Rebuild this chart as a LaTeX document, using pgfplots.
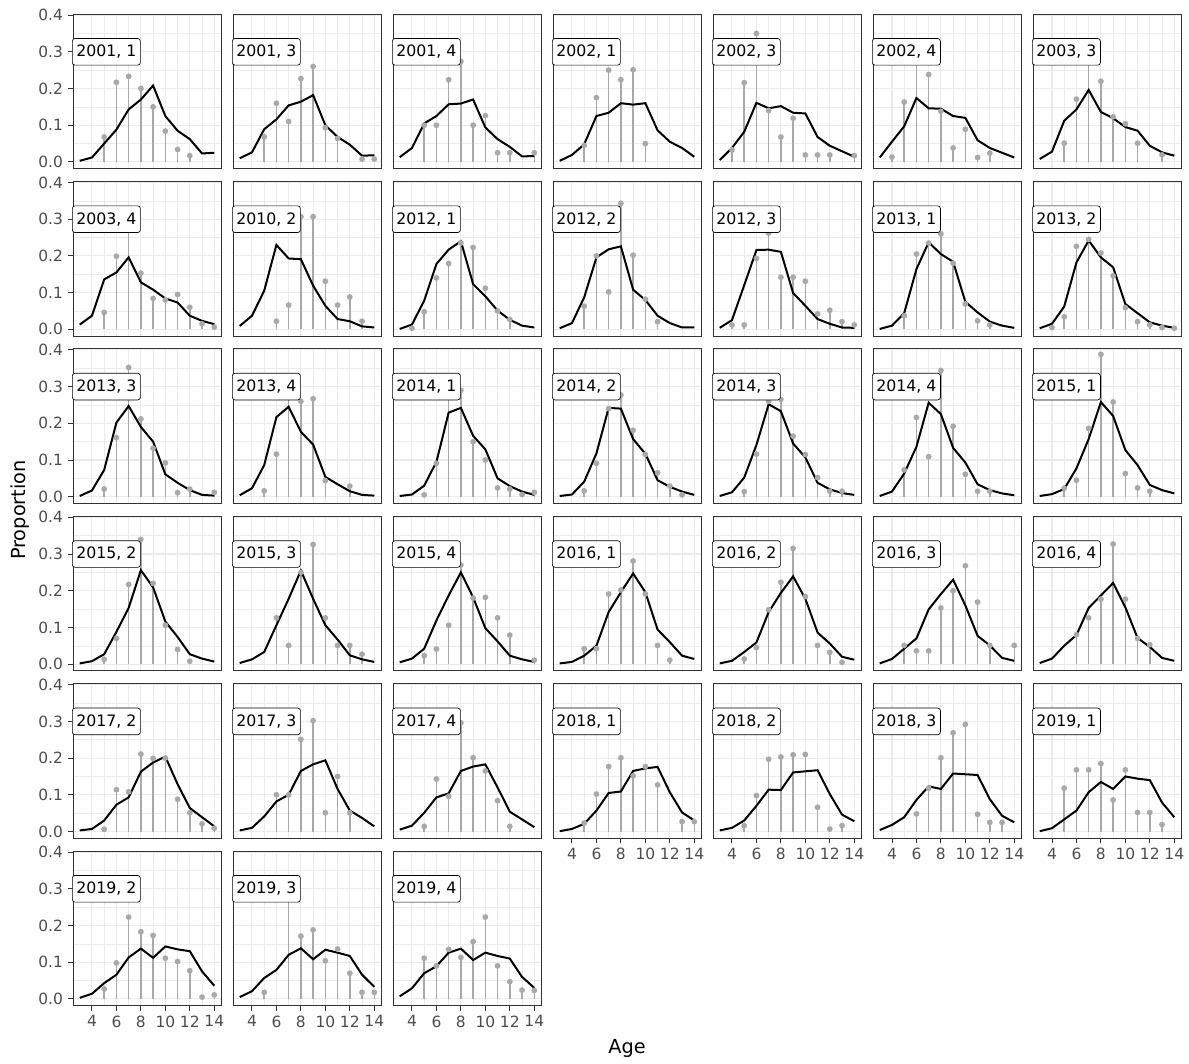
\documentclass[border=0pt]{standalone}
\usepackage{fontspec}
\setmainfont{DejaVu Sans}
\usepackage{pgfplots}
\pgfplotsset{compat=1.18}
\definecolor{gg92}{HTML}{EBEBEB}
\definecolor{gg20}{HTML}{333333}
\definecolor{gg30}{HTML}{4D4D4D}
\definecolor{obsc}{HTML}{A9A9A9}
\pgfplotsset{
  panel/.style={
    scale only axis, width=111pt, height=115.9pt, anchor=north west,
    xmin=2.45, xmax=14.55, ymin=-0.018, ymax=0.403,
    xtick={4,6,8,10,12,14}, ytick={0,0.1,0.2,0.3,0.4},
    minor x tick num=1, minor y tick num=1,
    grid=both,
    major grid style={draw=gg92, line width=0.8pt},
    minor grid style={draw=gg92, line width=0.4pt},
    axis line style={draw=gg20, line width=0.6pt},
    xticklabels={}, yticklabels={},
    xtick style={draw=none}, ytick style={draw=none},
    tick align=outside, major tick length=4pt, minor tick length=0pt,
    xtick pos=left, ytick pos=left,
    ticklabel style={font=\fontsize{11.6}{13}\selectfont, text=gg30},
    clip=false,
  },
  ylab/.style={yticklabels={0.0,0.1,0.2,0.3,0.4}, ytick style={draw=gg20, line width=0.7pt}},
  xlab/.style={xticklabels={4,6,8,10,12,14}, xtick style={draw=gg20, line width=0.7pt}},
  obsst/.style={ycomb, draw=obsc, line width=1.1pt, mark=*, mark size=1.6pt, mark options={fill=obsc, draw=obsc}},
  fitline/.style={black, line width=1.5pt, mark=none},
}
\tikzset{lbl/.style={draw=black, fill=white, rounded corners=2pt, line width=0.5pt,
  font=\fontsize{11.8}{13}\selectfont, inner xsep=3pt, inner ysep=0pt, minimum height=20pt,
  text height=0.73em, text depth=0pt, anchor=west}}
\newcommand{\panel}[5]{%
  \begin{axis}[panel, at={(#1)}, #5,
      after end axis/.code={\node[lbl] at (axis cs:2.37,0.3) {#2};}]
    \addplot[obsst] coordinates {#4};
    \addplot[fitline] coordinates {#3};
  \end{axis}}
\begin{document}
\begin{tikzpicture}
\useasboundingbox (0,0) rectangle (891.75pt,798pt);
% ---------- row 1 ----------
\panel{54.75pt,787.5pt}{2001, 1}
{(3,0.003)(4,0.012)(5,0.05)(6,0.088)(7,0.143)(8,0.17)(9,0.208)(10,0.125)(11,0.085)(12,0.062)(13,0.023)(14,0.025)}
{(5,0.068)(6,0.217)(7,0.233)(8,0.2)(9,0.15)(10,0.084)(11,0.034)(12,0.017)}{ylab}
\panel{174.75pt,787.5pt}{2001, 3}
{(3,0.01)(4,0.026)(5,0.089)(6,0.116)(7,0.154)(8,0.164)(9,0.182)(10,0.1)(11,0.068)(12,0.047)(13,0.017)(14,0.018)}
{(5,0.068)(6,0.16)(7,0.11)(8,0.227)(9,0.26)(10,0.093)(11,0.064)(13,0.008)(14,0.008)}{}
\panel{294.75pt,787.5pt}{2001, 4}
{(3,0.013)(4,0.038)(5,0.105)(6,0.125)(7,0.157)(8,0.159)(9,0.17)(10,0.094)(11,0.062)(12,0.041)(13,0.015)(14,0.016)}
{(5,0.1)(6,0.1)(7,0.224)(8,0.274)(9,0.1)(10,0.126)(11,0.025)(12,0.025)(14,0.025)}{}
\panel{414.75pt,787.5pt}{2002, 1}
{(3,0.003)(4,0.019)(5,0.048)(6,0.125)(7,0.134)(8,0.16)(9,0.156)(10,0.16)(11,0.086)(12,0.055)(13,0.038)(14,0.014)}
{(5,0.045)(6,0.175)(7,0.25)(8,0.224)(9,0.251)(10,0.05)}{}
\panel{534.75pt,787.5pt}{2002, 3}
{(3,0.005)(4,0.038)(5,0.082)(6,0.161)(7,0.146)(8,0.152)(9,0.134)(10,0.132)(11,0.068)(12,0.044)(13,0.029)(14,0.014)}
{(4,0.033)(5,0.216)(6,0.35)(7,0.14)(8,0.068)(9,0.119)(10,0.019)(11,0.019)(12,0.019)(14,0.017)}{}
\panel{654.75pt,787.5pt}{2002, 4}
{(3,0.012)(4,0.055)(5,0.097)(6,0.174)(7,0.146)(8,0.145)(9,0.125)(10,0.12)(11,0.059)(12,0.038)(13,0.025)(14,0.012)}
{(4,0.013)(5,0.163)(6,0.3)(7,0.238)(8,0.138)(9,0.038)(10,0.089)(11,0.012)(12,0.024)}{}
\panel{774.75pt,787.5pt}{2003, 3}
{(3,0.008)(4,0.028)(5,0.112)(6,0.143)(7,0.196)(8,0.136)(9,0.119)(10,0.095)(11,0.085)(12,0.044)(13,0.026)(14,0.017)}
{(5,0.051)(6,0.171)(7,0.3)(8,0.22)(9,0.123)(10,0.104)(11,0.051)(13,0.019)}{}
% ---------- row 2 ----------
\panel{54.75pt,661.95pt}{2003, 4}
{(3,0.013)(4,0.037)(5,0.136)(6,0.155)(7,0.196)(8,0.128)(9,0.108)(10,0.084)(11,0.073)(12,0.037)(13,0.023)(14,0.014)}
{(5,0.046)(6,0.199)(7,0.28)(8,0.153)(9,0.084)(10,0.08)(11,0.095)(12,0.06)(13,0.015)(14,0.006)}{ylab}
\panel{174.75pt,661.95pt}{2010, 2}
{(3,0.009)(4,0.037)(5,0.105)(6,0.23)(7,0.193)(8,0.191)(9,0.119)(10,0.064)(11,0.028)(12,0.022)(13,0.008)(14,0.005)}
{(6,0.022)(7,0.066)(8,0.307)(9,0.307)(10,0.131)(11,0.066)(12,0.088)(13,0.022)}{}
\panel{294.75pt,661.95pt}{2012, 1}
{(3,0.001)(4,0.013)(5,0.078)(6,0.178)(7,0.217)(8,0.24)(9,0.123)(10,0.09)(11,0.051)(12,0.026)(13,0.01)(14,0.005)}
{(4,0.003)(5,0.048)(6,0.14)(7,0.179)(8,0.235)(9,0.223)(10,0.112)(11,0.05)(12,0.027)}{}
\panel{414.75pt,661.95pt}{2012, 2}
{(3,0.003)(4,0.017)(5,0.087)(6,0.196)(7,0.218)(8,0.226)(9,0.108)(10,0.08)(11,0.037)(12,0.017)(13,0.005)(14,0.005)}
{(5,0.063)(6,0.2)(7,0.102)(8,0.343)(9,0.202)(10,0.082)(11,0.021)}{}
\panel{534.75pt,661.95pt}{2012, 3}
{(3,0.004)(4,0.025)(5,0.12)(6,0.216)(7,0.217)(8,0.211)(9,0.099)(10,0.064)(11,0.028)(12,0.015)(13,0.005)(14,0.004)}
{(4,0.012)(5,0.012)(6,0.193)(7,0.262)(8,0.142)(9,0.142)(10,0.131)(11,0.042)(12,0.052)(13,0.021)(14,0.012)}{}
\panel{654.75pt,661.95pt}{2013, 1}
{(3,0.001)(4,0.01)(5,0.044)(6,0.164)(7,0.237)(8,0.205)(9,0.184)(10,0.075)(11,0.046)(12,0.021)(13,0.01)(14,0.004)}
{(5,0.037)(6,0.205)(7,0.235)(8,0.26)(9,0.18)(10,0.069)(11,0.023)(12,0.012)}{}
\panel{774.75pt,661.95pt}{2013, 2}
{(3,0.003)(4,0.015)(5,0.062)(6,0.182)(7,0.242)(8,0.196)(9,0.169)(10,0.069)(11,0.044)(12,0.019)(13,0.01)(14,0.004)}
{(4,0.005)(5,0.034)(6,0.226)(7,0.245)(8,0.208)(9,0.146)(10,0.059)(11,0.021)(12,0.012)(13,0.005)(14,0.003)}{}
% ---------- row 3 ----------
\panel{54.75pt,536.4pt}{2013, 3}
{(3,0.002)(4,0.017)(5,0.073)(6,0.202)(7,0.247)(8,0.19)(9,0.15)(10,0.061)(11,0.038)(12,0.018)(13,0.005)(14,0.003)}
{(5,0.021)(6,0.161)(7,0.352)(8,0.212)(9,0.132)(10,0.092)(11,0.011)(12,0.021)(14,0.012)}{ylab}
\panel{174.75pt,536.4pt}{2013, 4}
{(3,0.004)(4,0.023)(5,0.086)(6,0.217)(7,0.245)(8,0.177)(9,0.142)(10,0.054)(11,0.034)(12,0.015)(13,0.005)(14,0.003)}
{(5,0.016)(6,0.116)(7,0.27)(8,0.26)(9,0.267)(10,0.044)(12,0.029)}{}
\panel{294.75pt,536.4pt}{2014, 1}
{(3,0.002)(4,0.006)(5,0.03)(6,0.095)(7,0.229)(8,0.242)(9,0.166)(10,0.129)(11,0.05)(12,0.029)(13,0.014)(14,0.005)}
{(5,0.005)(6,0.091)(7,0.27)(8,0.29)(9,0.15)(10,0.1)(11,0.024)(12,0.021)(13,0.006)(14,0.012)}{}
\panel{414.75pt,536.4pt}{2014, 2}
{(3,0.002)(4,0.006)(5,0.041)(6,0.118)(7,0.242)(8,0.24)(9,0.157)(10,0.117)(11,0.045)(12,0.027)(13,0.014)(14,0.005)}
{(5,0.016)(6,0.091)(7,0.24)(8,0.277)(9,0.181)(10,0.115)(11,0.065)(12,0.029)(13,0.005)}{}
\panel{534.75pt,536.4pt}{2014, 3}
{(3,0.002)(4,0.012)(5,0.052)(6,0.141)(7,0.252)(8,0.233)(9,0.145)(10,0.107)(11,0.038)(12,0.02)(13,0.01)(14,0.005)}
{(5,0.014)(6,0.116)(7,0.26)(8,0.265)(9,0.165)(10,0.115)(11,0.052)(12,0.015)(13,0.015)}{}
\panel{654.75pt,536.4pt}{2014, 4}
{(3,0.002)(4,0.014)(5,0.063)(6,0.136)(7,0.256)(8,0.225)(9,0.133)(10,0.093)(11,0.034)(12,0.018)(13,0.009)(14,0.004)}
{(5,0.073)(6,0.216)(7,0.109)(8,0.344)(9,0.192)(10,0.061)(11,0.015)(12,0.015)}{}
\panel{774.75pt,536.4pt}{2015, 1}
{(3,0.002)(4,0.007)(5,0.021)(6,0.077)(7,0.157)(8,0.258)(9,0.22)(10,0.127)(11,0.086)(12,0.032)(13,0.018)(14,0.009)}
{(5,0.023)(6,0.045)(7,0.186)(8,0.388)(9,0.258)(10,0.063)(11,0.024)(12,0.015)}{}
% ---------- row 4 ----------
\panel{54.75pt,410.85pt}{2015, 2}
{(3,0.002)(4,0.008)(5,0.027)(6,0.088)(7,0.153)(8,0.256)(9,0.209)(10,0.116)(11,0.074)(12,0.027)(13,0.015)(14,0.007)}
{(5,0.013)(6,0.07)(7,0.217)(8,0.34)(9,0.22)(10,0.106)(11,0.04)(12,0.008)}{ylab}
\panel{174.75pt,410.85pt}{2015, 3}
{(3,0.003)(4,0.013)(5,0.033)(6,0.106)(7,0.178)(8,0.255)(9,0.178)(10,0.106)(11,0.067)(12,0.024)(13,0.013)(14,0.006)}
{(6,0.126)(7,0.051)(8,0.25)(9,0.326)(10,0.126)(11,0.051)(12,0.051)(13,0.027)}{}
\panel{294.75pt,410.85pt}{2015, 4}
{(3,0.005)(4,0.015)(5,0.042)(6,0.119)(7,0.187)(8,0.25)(9,0.182)(10,0.098)(11,0.062)(12,0.023)(13,0.013)(14,0.006)}
{(5,0.023)(6,0.041)(7,0.106)(8,0.27)(9,0.18)(10,0.182)(11,0.126)(12,0.079)(14,0.011)}{}
\panel{414.75pt,410.85pt}{2016, 1}
{(3,0.002)(4,0.006)(5,0.023)(6,0.05)(7,0.142)(8,0.196)(9,0.247)(10,0.196)(11,0.094)(12,0.06)(13,0.023)(14,0.014)}
{(5,0.042)(6,0.042)(7,0.191)(8,0.202)(9,0.281)(10,0.191)(11,0.051)(12,0.011)}{}
\panel{534.75pt,410.85pt}{2016, 2}
{(3,0.002)(4,0.009)(5,0.033)(6,0.059)(7,0.142)(8,0.194)(9,0.239)(10,0.178)(11,0.086)(12,0.056)(13,0.02)(14,0.012)}
{(5,0.014)(6,0.045)(7,0.148)(8,0.223)(9,0.315)(10,0.184)(11,0.051)(12,0.032)(13,0.005)}{}
\panel{654.75pt,410.85pt}{2016, 3}
{(3,0.002)(4,0.014)(5,0.042)(6,0.07)(7,0.149)(8,0.191)(9,0.23)(10,0.16)(11,0.077)(12,0.051)(13,0.017)(14,0.009)}
{(5,0.051)(6,0.036)(7,0.036)(8,0.153)(9,0.2)(10,0.268)(11,0.169)(12,0.051)(14,0.051)}{}
\panel{774.75pt,410.85pt}{2016, 4}
{(3,0.003)(4,0.015)(5,0.05)(6,0.079)(7,0.153)(8,0.187)(9,0.221)(10,0.155)(11,0.071)(12,0.047)(13,0.017)(14,0.009)}
{(6,0.08)(7,0.126)(8,0.177)(9,0.327)(10,0.177)(11,0.07)(12,0.053)}{}
% ---------- row 5 ----------
\panel{54.75pt,285.3pt}{2017, 2}
{(3,0.003)(4,0.007)(5,0.03)(6,0.073)(7,0.093)(8,0.163)(9,0.188)(10,0.204)(11,0.129)(12,0.064)(13,0.039)(14,0.014)}
{(5,0.006)(6,0.114)(7,0.108)(8,0.211)(9,0.199)(10,0.2)(11,0.088)(12,0.051)(13,0.021)(14,0.009)}{ylab}
\panel{174.75pt,285.3pt}{2017, 3}
{(3,0.003)(4,0.01)(5,0.041)(6,0.082)(7,0.1)(8,0.165)(9,0.183)(10,0.194)(11,0.116)(12,0.057)(13,0.037)(14,0.014)}
{(6,0.1)(7,0.1)(8,0.251)(9,0.302)(10,0.051)(11,0.15)(12,0.051)}{}
\panel{294.75pt,285.3pt}{2017, 4}
{(3,0.005)(4,0.016)(5,0.051)(6,0.093)(7,0.104)(8,0.165)(9,0.177)(10,0.183)(11,0.12)(12,0.054)(13,0.033)(14,0.012)}
{(5,0.014)(6,0.143)(7,0.096)(8,0.296)(9,0.201)(10,0.165)(11,0.084)(12,0.014)}{}
\panel{414.75pt,285.3pt}{2018, 1}
{(3,0.001)(4,0.007)(5,0.021)(6,0.057)(7,0.105)(8,0.109)(9,0.165)(10,0.172)(11,0.176)(12,0.107)(13,0.052)(14,0.03)}
{(5,0.023)(6,0.102)(7,0.177)(8,0.201)(9,0.152)(10,0.177)(11,0.127)(13,0.027)(14,0.027)}{xlab}
\panel{534.75pt,285.3pt}{2018, 2}
{(3,0.003)(4,0.01)(5,0.03)(6,0.07)(7,0.114)(8,0.113)(9,0.161)(10,0.164)(11,0.167)(12,0.102)(13,0.046)(14,0.028)}
{(5,0.016)(6,0.098)(7,0.197)(8,0.203)(9,0.209)(10,0.21)(11,0.066)(12,0.007)(13,0.016)}{xlab}
\panel{654.75pt,285.3pt}{2018, 3}
{(3,0.004)(4,0.018)(5,0.039)(6,0.086)(7,0.123)(8,0.116)(9,0.158)(10,0.156)(11,0.154)(12,0.088)(13,0.043)(14,0.025)}
{(6,0.048)(7,0.118)(8,0.201)(9,0.269)(10,0.292)(11,0.047)(12,0.025)(13,0.025)}{xlab}
\panel{774.75pt,285.3pt}{2019, 1}
{(3,0.001)(4,0.009)(5,0.033)(6,0.057)(7,0.107)(8,0.135)(9,0.116)(10,0.15)(11,0.144)(12,0.14)(13,0.079)(14,0.039)}
{(5,0.118)(6,0.168)(7,0.168)(8,0.185)(9,0.086)(10,0.168)(11,0.052)(12,0.052)(13,0.019)}{xlab}
% ---------- row 6 ----------
\panel{54.75pt,159.75pt}{2019, 2}
{(3,0.003)(4,0.014)(5,0.043)(6,0.066)(7,0.113)(8,0.137)(9,0.112)(10,0.143)(11,0.135)(12,0.13)(13,0.075)(14,0.036)}
{(5,0.027)(6,0.098)(7,0.223)(8,0.183)(9,0.173)(10,0.111)(11,0.102)(12,0.077)(13,0.005)(14,0.011)}{ylab,xlab}
\panel{174.75pt,159.75pt}{2019, 3}
{(3,0.005)(4,0.021)(5,0.057)(6,0.079)(7,0.12)(8,0.138)(9,0.108)(10,0.134)(11,0.126)(12,0.117)(13,0.066)(14,0.033)}
{(5,0.018)(7,0.29)(8,0.171)(9,0.188)(10,0.104)(11,0.136)(12,0.07)(13,0.018)(14,0.018)}{xlab}
\panel{294.75pt,159.75pt}{2019, 4}
{(3,0.007)(4,0.029)(5,0.07)(6,0.089)(7,0.126)(8,0.137)(9,0.106)(10,0.126)(11,0.117)(12,0.11)(13,0.06)(14,0.03)}
{(5,0.111)(6,0.09)(7,0.135)(8,0.113)(9,0.156)(10,0.223)(11,0.09)(12,0.047)(13,0.024)(14,0.023)}{xlab}
% ---------- axis titles ----------
\node[rotate=90, font=\fontsize{14.5}{16}\selectfont] at (15pt,415.5pt) {Proportion};
\node[font=\fontsize{14.5}{16}\selectfont] at (470.25pt,12pt) {Age};
\end{tikzpicture}
\end{document}
